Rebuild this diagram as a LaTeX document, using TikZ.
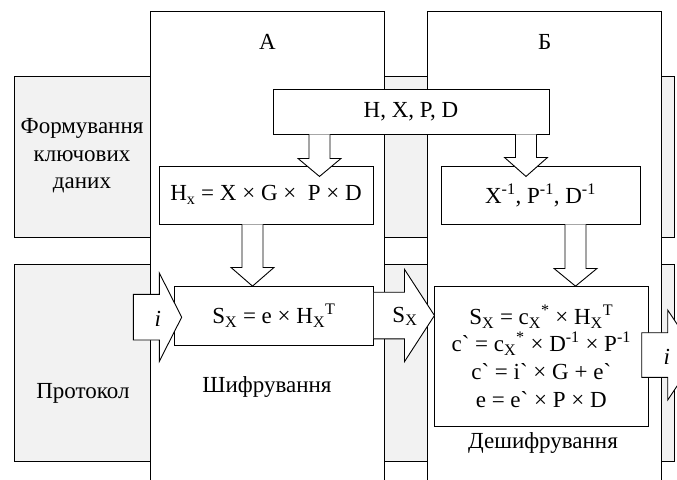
\documentclass[tikz,border=0pt]{standalone}
\usepackage{fontspec}
\setmainfont{Liberation Serif}[Ligatures=TeXOff]
\usetikzlibrary{calc}
\definecolor{bandgray}{RGB}{242,242,242}
\tikzset{
  band/.style={draw, fill=bandgray, line width=0.9pt},
  colbox/.style={draw, fill=white, line width=0.9pt},
  box/.style={draw, fill=white, line width=0.9pt, inner sep=0pt,
    font=\fontsize{23}{27.6}\selectfont, align=center},
  blk/.style={draw, fill=white, line width=0.9pt, line join=miter},
  lbl/.style={font=\fontsize{23}{27.5}\selectfont, align=center, inner sep=0pt},
}
\newcommand\varr[3]{%
  \draw[blk] ($(#1)+(-10.5,0)$) -- ($(#1)+(-10.5,#2)$) -- ($(#1)+(-21.5,#2)$)
    -- ($(#1)+(0,#3)$) -- ($(#1)+(21.5,#2)$) -- ($(#1)+(10.5,#2)$) -- ($(#1)+(10.5,0)$);}
\newcommand\harr[6]{%
  \draw[blk] ($(#1)+(0,-#2)$) -- ($(#1)+(#3,-#2)$) -- ($(#1)+(#3,-#4)$)
    -- ($(#1)+(#5,0)$) -- ($(#1)+(#3,#4)$) -- ($(#1)+(#3,#2)$) -- ($(#1)+(0,#2)$) #6;}
\begin{document}
\begin{tikzpicture}[x=1pt,y=-1pt]
\useasboundingbox (0,0) rectangle (677,479);
\clip (0,0) rectangle (677,479);
% horizontal bands
\draw[band] (14,76) rectangle (674.3,237);
\draw[band] (14,264) rectangle (674.3,461);
% columns
\draw[colbox] (150.7,11) rectangle (384.3,500);
\draw[colbox] (427.7,11) rectangle (661.7,500);
% labels
\node[lbl] (tA) at (267.5,42) {А};
\node[lbl] (tB) at (544.7,42) {Б};
\node[lbl] (tForm) at (82,156) {Формування\\ключових\\даних};
\node[lbl] (tProt) at (83,393) {Протокол};
\node[lbl] (tEnc) at (267,387) {Шифрування};
\node[lbl] (tDec) at (543,443) {Дешифрування};
% boxes
\node[box, minimum width=276, minimum height=45] (hxpd) at (411,111.5) {H, X, P, D};
\node[box, minimum width=214, minimum height=58] (hx) at (266,195)
  {H\textsubscript{x} = X × G ×\ \ P × D};
\node[box, minimum width=199, minimum height=58] (xinv) at (540.5,195)
  {X\textsuperscript{-1}, P\textsuperscript{-1}, D\textsuperscript{-1}};
\node[box, minimum width=199.2, minimum height=59] (sx) at (273.9,315.5)
  {S\textsubscript{X} = e × H\textsubscript{X}\textsuperscript{T}};
\node[box, minimum width=214.5, minimum height=140] (dec) at (541.25,356)
  {S\textsubscript{X} = c\textsubscript{X}\textsuperscript{*} × H\textsubscript{X}\textsuperscript{T}\\
   c` = c\textsubscript{X}\textsuperscript{*} × D\textsuperscript{-1} × P\textsuperscript{-1}\\
   c` = i` × G + e`\\
   e = e` × P × D};
% vertical block arrows
\coordinate (x1) at (319.5,0);
\coordinate (x2) at (526,0);
\coordinate (x3) at (252.5,0);
\coordinate (x4) at (575.5,0);
\coordinate (a1s) at (x1 |- hxpd.south);
\coordinate (a2s) at (x2 |- hxpd.south);
\coordinate (a3s) at (x3 |- hx.south);
\coordinate (a4s) at (x4 |- xinv.south);
\varr{a1s}{24}{42}
\varr{a2s}{23}{42}
\varr{a3s}{43}{61.7}
\varr{a4s}{44}{61.7}
% horizontal block arrows
\coordinate (iLs) at (133.3,317.2);
\harr{iLs}{22.8}{26}{44.2}{48.4}{-- cycle}
\node[lbl, font=\fontsize{23}{27}\selectfont\itshape] (iLt) at ($(iLs)+(24.4,2)$) {i};
\harr{sx.east}{23.3}{30.5}{46.2}{60.5}{}
\node[lbl] (sxt) at ($(sx.east)+(31,1)$) {S\textsubscript{X}};
\coordinate (iRs) at (641.7,355);
\harr{iRs}{22.3}{26}{45}{56}{-- cycle}
\node[lbl, font=\fontsize{23}{27}\selectfont\itshape] (iRt) at ($(iRs)+(25,2)$) {i};
\end{tikzpicture}
\end{document}
